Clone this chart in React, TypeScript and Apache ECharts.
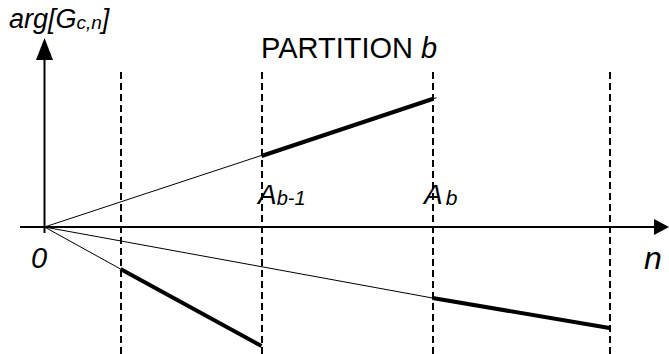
import React, { useEffect, useRef } from "react";
import * as echarts from "echarts";

// n positions of the partition boundaries (dashed lines)
const boundaries = [7.6, 21.7, 38.8, 56.5];
// phase rays from origin
const upperBold: [number, number][] = [[21.7, 7.1], [38.8, 12.8]];
const upperThin: [number, number][] = [[0, 0], [39.2, 12.93]];
const lower1Bold: [number, number][] = [[7.6, -4.2], [21.7, -11.9]];
const lower1Thin: [number, number][] = [[0, 0], [7.6, -4.2]];
const lower2Bold: [number, number][] = [[38.8, -7.1], [56.5, -10.1]];
const lower2Thin: [number, number][] = [[0, 0], [38.8, -7.1]];
// axes: n axis and phase axis
const nAxisLine: [number, number][] = [[-2.45, 0], [61.0, 0]];
const phaseAxisLine: [number, number][] = [[0, -0.6], [0, 17.0]];
const nArrow: [number, number] = [61.7, 0];
const phaseArrow: [number, number] = [0, 17.8];
const xRange = [-4.45, 62.45];
const yRange = [-12.7, 22.7];
const dashTop = 15.5;

const FONT = "Liberation Sans";

export default function App() {
  const ref = useRef<HTMLDivElement>(null);
  useEffect(() => {
    const chart = echarts.init(ref.current!, null, { renderer: "svg" });
    const seg = (data: [number, number][], width: number) => ({
      type: "line",
      data,
      symbol: "none",
      silent: true,
      lineStyle: { color: "#000", width },
    });
    chart.setOption({
      animation: false,
      backgroundColor: "#fff",
      grid: { left: 0, right: 0, top: 0, bottom: 0 },
      xAxis: { type: "value", min: xRange[0], max: xRange[1], show: false },
      yAxis: { type: "value", min: yRange[0], max: yRange[1], show: false },
      series: [
        seg(nAxisLine, 2),
        seg(phaseAxisLine, 2),
        {
          type: "scatter",
          silent: true,
          data: [
            { value: nArrow, symbolSize: [16, 15], symbolRotate: -90 },
            { value: phaseArrow, symbolSize: [17, 22], symbolRotate: 0 },
          ],
          symbol: "triangle",
          itemStyle: { color: "#000", opacity: 1 },
        },
        {
          type: "line",
          data: [],
          markLine: {
            silent: true,
            animation: false,
            symbol: "none",
            label: { show: false },
            data: boundaries.map((b) => [
              { coord: [b, yRange[0]] },
              { coord: [b, dashTop] },
            ]),
            lineStyle: { color: "#000", width: 2, type: [7, 4] },
          },
        },
        seg(upperThin, 1),
        seg(lower1Thin, 1),
        seg(lower2Thin, 1),
        seg(upperBold, 4),
        seg(lower1Bold, 4),
        seg(lower2Bold, 4),
      ],
      graphic: [
        {
          type: "text",
          x: 9,
          y: 4,
          style: {
            text: "{a|arg[G}{s|c,n}{a|]}",
            fill: "#000",
            verticalAlign: "top",
            rich: {
              a: { fontFamily: FONT, fontSize: 27, fontStyle: "italic", lineHeight: 28, verticalAlign: "bottom" },
              s: { fontFamily: FONT, fontSize: 19, fontStyle: "italic", lineHeight: 17, verticalAlign: "bottom" },
            },
          },
        },
        {
          type: "text",
          x: 261,
          y: 48,
          style: {
            text: "{p|PARTITION }{b|b}",
            fill: "#000",
            verticalAlign: "middle",
            rich: {
              p: { fontFamily: FONT, fontSize: 29 },
              b: { fontFamily: FONT, fontSize: 29, fontStyle: "italic" },
            },
          },
        },
        {
          type: "text",
          x: 258,
          y: 180,
          style: {
            text: "{a|A}{s|b-1}",
            fill: "#000",
            verticalAlign: "top",
            rich: {
              a: { fontFamily: FONT, fontSize: 28, fontStyle: "italic", lineHeight: 28, verticalAlign: "bottom" },
              s: { fontFamily: FONT, fontSize: 20, fontStyle: "italic", lineHeight: 14, verticalAlign: "bottom" },
            },
          },
        },
        {
          type: "text",
          x: 424,
          y: 180,
          style: {
            text: "{a|A}{s|b}",
            fill: "#000",
            verticalAlign: "top",
            rich: {
              a: { fontFamily: FONT, fontSize: 28, fontStyle: "italic", lineHeight: 28, verticalAlign: "bottom" },
              s: { fontFamily: FONT, fontSize: 21, fontStyle: "italic", lineHeight: 18, verticalAlign: "bottom", padding: [0, 0, 0, 3] },
            },
          },
        },
        {
          type: "text",
          x: 31,
          y: 258,
          style: {
            text: "0",
            fill: "#000",
            fontFamily: FONT,
            fontSize: 29,
            fontStyle: "italic",
            verticalAlign: "middle",
          },
        },
        {
          type: "text",
          x: 644,
          y: 258,
          style: {
            text: "n",
            fill: "#000",
            fontFamily: FONT,
            fontSize: 32,
            fontStyle: "italic",
            verticalAlign: "middle",
          },
        },
      ],
    });
    return () => chart.dispose();
  }, []);
  return (
    <div
      ref={ref}
      style={{ position: "fixed", left: 0, top: 0, width: 669, height: 354, background: "#fff" }}
    />
  );
}
